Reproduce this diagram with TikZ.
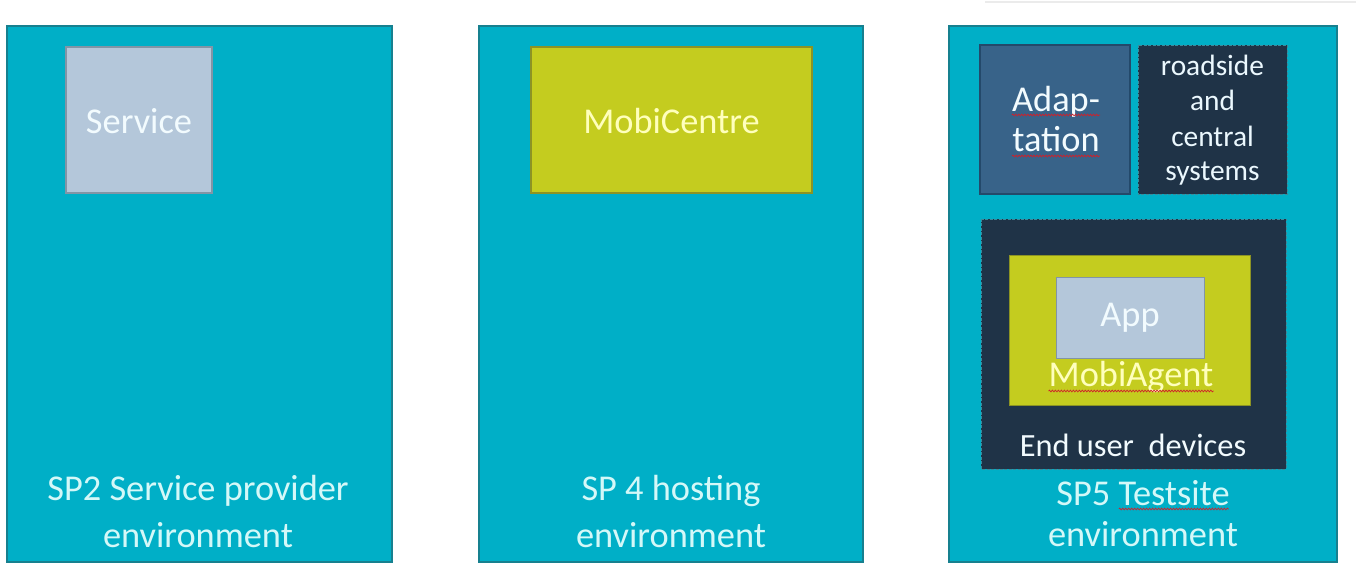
\documentclass[tikz,border=0pt]{standalone}
\usepackage{fontspec}
\setmainfont{Carlito}
\usetikzlibrary{decorations.pathmorphing}

\definecolor{panelfill}{HTML}{00AFC7}
\definecolor{paneledge}{HTML}{17808F}
\definecolor{paneltext}{HTML}{D4F8F8}
\definecolor{greyfill}{HTML}{B4C7DA}
\definecolor{greyedge}{HTML}{8295A6}
\definecolor{limefill}{HTML}{C4CC1F}
\definecolor{limeedge}{HTML}{8C9324}
\definecolor{limetext}{HTML}{FFFFBC}
\definecolor{steelfill}{HTML}{386389}
\definecolor{steeledge}{HTML}{24496A}
\definecolor{navyfill}{HTML}{1F3347}
\definecolor{navyedge}{HTML}{3C8A9A}
\definecolor{spellred}{HTML}{D0202A}

\tikzset{
  panelbox/.style={draw=paneledge, fill=panelfill, line width=1.6pt},
  greybox/.style={draw=greyedge, fill=greyfill, line width=1.4pt},
  limebox/.style={draw=limeedge, fill=limefill, line width=1.4pt},
  steelbox/.style={draw=steeledge, fill=steelfill, line width=1.4pt},
  navybox/.style={draw=navyedge, fill=navyfill, line width=0.9pt, dash pattern=on 3pt off 1.5pt},
  lbl/.style={inner sep=0pt, anchor=base, font=\fontsize{36.5}{42}\selectfont},
  paneltxt/.style={lbl, text=paneltext},
  whitetxt/.style={lbl, text=white!95!cyan},
  limetxt/.style={lbl, text=limetext},
  smalltxt/.style={lbl, text=white!92!cyan, font=\fontsize{29.5}{35}\selectfont},
  spell/.style={draw=spellred, line width=0.7pt,
    decorate, decoration={snake, amplitude=0.9pt, segment length=3pt}}
}

\begin{document}
\begin{tikzpicture}[x=1bp, y=-1bp]
  \useasboundingbox (0,0) rectangle (1356,588);
  \fill[white] (0,0) rectangle (1356,588);
  % faint shadow edge along the top right
  \draw[line width=1.5pt, color=black!8] (985,2) -- (1356,2);

  % ---- SP2 service provider environment
  \draw[panelbox] (7,26) rectangle (392,562);
  \draw[greybox] (66,47) rectangle (212,193);
  \node[whitetxt, anchor=center] (service) at (139,121) {Service};
  \node[paneltxt] (sp2a) at (198,500) {SP2 Service provider};
  \node[paneltxt] (sp2b) at (198,547) {environment};

  % ---- SP4 hosting environment
  \draw[panelbox] (479,26) rectangle (863,562);
  \draw[limebox] (531,47) rectangle (812,193);
  \node[limetxt, anchor=center] (mobicentre) at (671.5,121) {MobiCentre};
  \node[paneltxt] (sp4a) at (671,500) {SP 4 hosting};
  \node[paneltxt] (sp4b) at (671,547) {environment};

  % ---- SP5 testsite environment
  \draw[panelbox] (949,26) rectangle (1337,562);
  \draw[steelbox] (980,45) rectangle (1130,194);
  \node[whitetxt] (adapa) at (1056,112) {Adap-};
  \node[whitetxt] (adapb) at (1056,152) {tation};
  \draw[spell] ([yshift=-3bp]adapa.base west) -- ([yshift=-3bp]adapa.base east);
  \draw[spell] ([yshift=-4bp]adapb.base west) -- ([yshift=-4bp]adapb.base east);

  \draw[navybox] (1138,45) rectangle (1287,194);
  \node[smalltxt] (rs1) at (1212.5,76) {roadside};
  \node[smalltxt] (rs2) at (1212.5,111) {and};
  \node[smalltxt] (rs3) at (1212.5,147) {central};
  \node[smalltxt] (rs4) at (1212.5,181) {systems};

  \draw[navybox] (981,219) rectangle (1286,469);
  \draw[limebox, line width=1pt] (1009,255) rectangle (1250,405);
  \draw[greybox, line width=1pt] (1056,277) rectangle (1204,358);
  \node[whitetxt, anchor=center] (app) at (1130,318) {App};
  \node[limetxt] (agent) at (1131,386) {MobiAgent};
  \draw[spell] ([yshift=-5bp]agent.base west) -- ([yshift=-5bp]agent.base east);
  \node[whitetxt, font=\fontsize{32.5}{38}\selectfont] (devices) at (1133,456) {End user\ \ devices};

  \node[paneltxt] (sp5a) at (1143,505) {SP5 Testsite};
  \node[paneltxt] (sp5b) at (1143,546) {environment};
  \coordinate (tsl) at ([xshift=-1bp, yshift=-4bp]sp5a.base east);
  \draw[spell] ([xshift=-110bp]tsl) -- (tsl);
\end{tikzpicture}
\end{document}
